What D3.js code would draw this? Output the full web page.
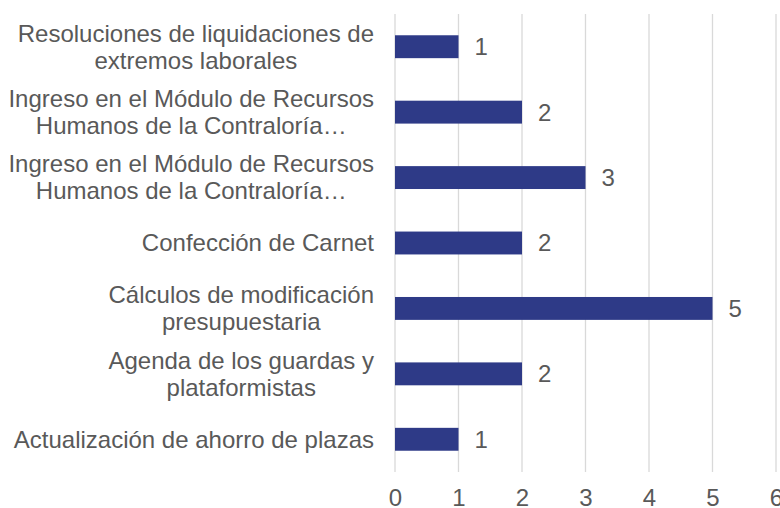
<!DOCTYPE html>
<html>
<head>
<meta charset="utf-8">
<script src="https://cdn.jsdelivr.net/npm/d3@7"></script>
<style>
  body { margin: 0; background: #fff; }
  text { font-family: "Liberation Sans", Arial, sans-serif; fill: #595959; }
</style>
</head>
<body>
<svg id="chart" width="780" height="508"></svg>
<script>
// Categorías (de arriba hacia abajo), con saltos de línea como en el original
const categories = [
  'Resoluciones de liquidaciones de\nextremos laborales',
  'Ingreso en el Módulo de Recursos\nHumanos de la Contraloría…',
  'Ingreso en el Módulo de Recursos\nHumanos de la Contraloría…',
  'Confección de Carnet',
  'Cálculos de modificación\npresupuestaria',
  'Agenda de los guardas y\nplataformistas',
  'Actualización de ahorro de plazas'
];
const values = [1, 2, 3, 2, 5, 2, 1];
const xTicks = [0, 1, 2, 3, 4, 5, 6];

const svg = d3.select('#chart');
const FONT = 24;
const LINE_H = 27;

const x = d3.scaleLinear().domain([0, 6]).range([395, 776]);
const y = d3.scaleBand()
  .domain(d3.range(categories.length))
  .range([14, 472])
  .paddingInner(0.65)
  .paddingOuter(0.325);

// Líneas de la cuadrícula
svg.append('g')
  .selectAll('line')
  .data(xTicks)
  .enter()
  .append('line')
  .attr('x1', d => x(d)).attr('x2', d => x(d))
  .attr('y1', 14).attr('y2', 472)
  .attr('stroke', '#d9d9d9')
  .attr('stroke-width', 1.3);

// Etiquetas del eje x
const xAxis = svg.append('g')
  .attr('transform', 'translate(0,498)')
  .call(d3.axisBottom(x).tickValues(xTicks).tickFormat(d3.format('d')).tickSize(0).tickPadding(0));
xAxis.select('.domain').remove();
xAxis.selectAll('text')
  .attr('dy', '0.35em')
  .style('font-size', FONT + 'px')
  .attr('fill', '#595959');

// Barras
svg.append('g')
  .selectAll('rect')
  .data(values)
  .enter()
  .append('rect')
  .attr('x', x(0))
  .attr('y', (d, i) => y(i))
  .attr('width', d => x(d) - x(0))
  .attr('height', y.bandwidth())
  .attr('fill', '#2E3A87');

// Etiquetas de valores
svg.append('g')
  .selectAll('text')
  .data(values)
  .enter()
  .append('text')
  .attr('x', d => x(d) + 16)
  .attr('y', (d, i) => y(i) + y.bandwidth() / 2)
  .attr('dy', '0.35em')
  .style('font-size', FONT + 'px')
  .text(d => d);

// Etiquetas de categorías (bloque alineado a la derecha, líneas centradas)
const LABEL_RIGHT = 374;
categories.forEach((cat, i) => {
  const lines = cat.split('\n');
  const cy = y(i) + y.bandwidth() / 2;
  const g = svg.append('g');
  const texts = lines.map((ln, j) => g.append('text')
    .attr('y', cy + (j - (lines.length - 1) / 2) * LINE_H)
    .attr('dy', '0.35em')
    .attr('text-anchor', 'middle')
    .style('font-size', FONT + 'px')
    .text(ln));
  const maxW = d3.max(texts, t => t.node().getComputedTextLength());
  texts.forEach(t => t.attr('x', LABEL_RIGHT - maxW / 2));
});
</script>
</body>
</html>
